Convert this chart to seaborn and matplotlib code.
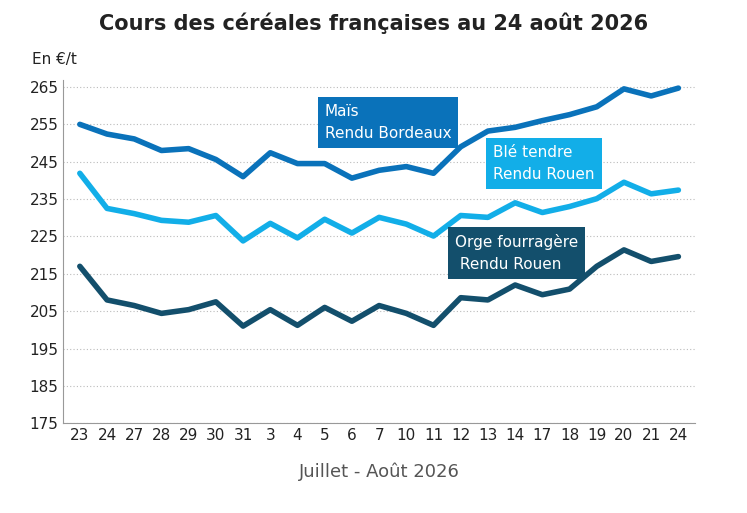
import matplotlib
matplotlib.use("Agg")
import matplotlib.pyplot as plt
import seaborn as sns
import pandas as pd

days = ["23","24","27","28","29","30","31","3","4","5","6","7","10","11","12","13","14","17","18","19","20","21","24"]
mais = [255.0,252.4,251.1,248.0,248.5,245.6,241.0,247.4,244.5,244.5,240.6,242.7,243.7,241.9,249.0,253.2,254.2,256.0,257.6,259.7,264.5,262.6,264.7]
ble = [241.9,232.5,231.1,229.3,228.8,230.6,223.8,228.5,224.6,229.6,225.9,230.1,228.3,225.1,230.6,230.1,234.0,231.4,233.0,235.1,239.5,236.4,237.4]
orge = [217.0,208.0,206.5,204.4,205.4,207.5,201.0,205.4,201.2,206.0,202.3,206.5,204.4,201.2,208.6,208.0,212.0,209.4,210.9,217.0,221.4,218.3,219.6]

sns.set_style("white")
plt.rcParams['font.family'] = ['DejaVu Sans']
fig, ax = plt.subplots(figsize=(7.47, 5.13), dpi=100)
fig.subplots_adjust(left=0.085, right=0.93, top=0.845, bottom=0.175)

x = list(range(len(days)))
colors = {"mais": "#0A72BA", "ble": "#12AEE8", "orge": "#134F6C"}
for vals, c in [(mais, colors["mais"]), (ble, colors["ble"]), (orge, colors["orge"])]:
    sns.lineplot(x=x, y=vals, ax=ax, color=c, linewidth=4)

ax.set_ylim(175, 267)
ax.set_yticks(range(175, 266, 10))
ax.set_xlim(-0.6, len(days) - 0.4)
ax.set_xticks(x)
ax.set_xticklabels(days)
ax.tick_params(axis='both', labelsize=11, colors="#222222", length=0)
ax.yaxis.grid(True, linestyle=(0, (1, 2)), color="#bbbbbb", linewidth=0.8)
for s in ["top", "right"]:
    ax.spines[s].set_visible(False)
ax.spines["left"].set_color("#999999")
ax.spines["bottom"].set_color("#999999")

ax.text(-0.05, 1.045, "En €/t", transform=ax.transAxes, fontsize=11, color="#222222")
fig.suptitle("Cours des céréales françaises au 24 août 2026", fontsize=15, fontweight="bold", y=0.975, color="#222222")
ax.set_xlabel("Juillet - Août 2026", fontsize=13, color="#555555", labelpad=14)

box = dict(boxstyle="square,pad=0.45", linewidth=0)
ax.text(9.0, 255.5, "Maïs\nRendu Bordeaux", fontsize=11, color="white", va="center",
        bbox=dict(box, facecolor=colors["mais"]), linespacing=1.6)
ax.text(15.2, 244.5, "Blé tendre\nRendu Rouen", fontsize=11, color="white", va="center",
        bbox=dict(box, facecolor=colors["ble"]), linespacing=1.6)
ax.text(13.8, 220.6, "Orge fourragère\n Rendu Rouen", fontsize=11, color="white", va="center",
        bbox=dict(box, facecolor=colors["orge"]), linespacing=1.6)

fig.savefig("out.png", dpi=100)
